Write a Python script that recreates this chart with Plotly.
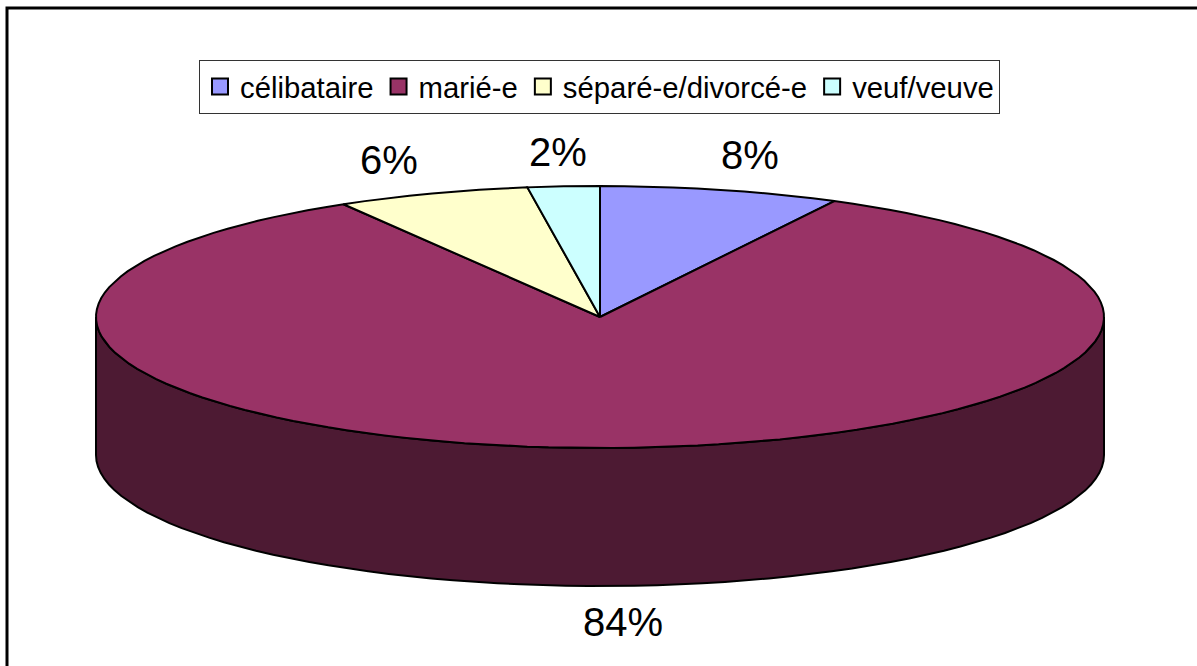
import numpy as np
import plotly.graph_objects as go

categories = ["célibataire", "marié-e", "séparé-e/divorcé-e", "veuf/veuve"]
values = [7.7, 83.8, 6.2, 2.3]
labels = ["8%", "84%", "6%", "2%"]
colors = ["#9999FF", "#993366", "#FFFFCC", "#CCFFFF"]
side_color = "#4D1A33"

W, H = 1197, 666
CX, CY, RX, RY, DEPTH = 600, 317, 504, 131, 138


def pt(theta):
    return CX + RX * np.sin(theta), CY - RY * np.cos(theta)


fractions = np.array(values) / sum(values)
edges = np.concatenate([[0], np.cumsum(fractions)]) * 2 * np.pi

fig = go.Figure()

# visible side wall: the front half of the rim, extruded downward
t = np.linspace(np.pi / 2, 3 * np.pi / 2, 70)
xr, yr = pt(t)
fig.add_trace(go.Scatter(
    x=np.concatenate([xr, xr[::-1], xr[:1]]),
    y=np.concatenate([yr + DEPTH, yr[::-1], yr[:1] + DEPTH]),
    mode="lines", fill="toself", fillcolor=side_color,
    line=dict(color="black", width=2), showlegend=False, hoverinfo="skip"))

for i, cat in enumerate(categories):
    t = np.linspace(edges[i], edges[i + 1], max(3, int(values[i] * 1.5)))
    xr, yr = pt(t)
    fig.add_trace(go.Scatter(
        x=np.concatenate([[CX], xr, [CX]]), y=np.concatenate([[CY], yr, [CY]]),
        mode="lines", fill="toself", fillcolor=colors[i],
        line=dict(color="black", width=2), showlegend=False, hoverinfo="skip"))
    # legend entry
    fig.add_trace(go.Scatter(
        x=[None], y=[None], mode="markers", name=cat,
        marker=dict(symbol="square", size=17, color=colors[i], line=dict(color="black", width=2))))

# data labels, placed outward from each slice's mid-angle
label_shift = [(29, 35), (10, -36), (-43, 33), (-6, 34)]
annotations = []
for i, lab in enumerate(labels):
    mid = (edges[i] + edges[i + 1]) / 2
    xm, ym = pt(mid)
    if i == 1:
        ym += DEPTH
    annotations.append(dict(
        x=xm, y=ym, text=lab, showarrow=False,
        xshift=label_shift[i][0], yshift=label_shift[i][1],
        font=dict(family="Liberation Sans", size=40, color="black")))

fig.update_layout(
    width=W, height=H, autosize=False,
    margin=dict(l=0, r=0, t=0, b=0),
    paper_bgcolor="white", plot_bgcolor="white",
    xaxis=dict(range=[0, W], visible=False, fixedrange=True),
    yaxis=dict(range=[H, 0], visible=False, fixedrange=True),
    annotations=annotations,
    legend=dict(
        orientation="h", x=199 / W, y=1 - 60 / H, xanchor="left", yanchor="top",
        bgcolor="white", bordercolor="#333333", borderwidth=1,
        font=dict(family="Liberation Sans", size=29.3, color="black"),
        itemsizing="trace", itemwidth=30),
    shapes=[dict(type="rect", xref="paper", yref="paper", x0=7 / W, x1=1.2, y0=-0.2, y1=1 - 8 / H,
                 line=dict(color="black", width=3), layer="below")],
)
fig.write_html("out.html", config=dict(displayModeBar=False),
               post_script="document.body.style.margin='0';")
